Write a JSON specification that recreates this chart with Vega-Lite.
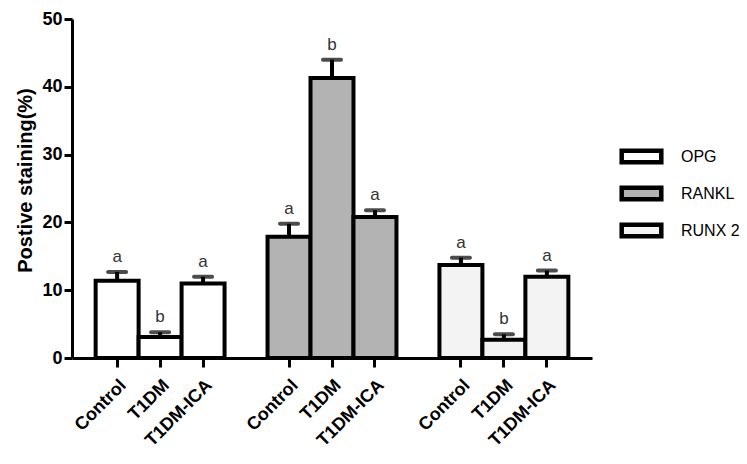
{
  "$schema": "https://vega.github.io/schema/vega-lite/v6.json",
  "width": 520,
  "height": 339,
  "autosize": {"type": "none"},
  "padding": {"left": 72, "top": 19, "right": 155, "bottom": 106},
  "background": "white",
  "config": {"view": {"stroke": null}, "font": "Liberation Sans"},
  "data": {
    "values": [
      {"key": "OPG|Control", "group": "OPG", "value": 11.4, "upper": 12.7, "letter": "a"},
      {"key": "OPG|T1DM", "group": "OPG", "value": 3.1, "upper": 3.8, "letter": "b"},
      {"key": "OPG|T1DM-ICA", "group": "OPG", "value": 11.0, "upper": 12.0, "letter": "a"},
      {"key": "RANKL|Control", "group": "RANKL", "value": 17.9, "upper": 19.8, "letter": "a"},
      {"key": "RANKL|T1DM", "group": "RANKL", "value": 41.3, "upper": 44.0, "letter": "b"},
      {"key": "RANKL|T1DM-ICA", "group": "RANKL", "value": 20.8, "upper": 21.8, "letter": "a"},
      {"key": "RUNX|Control", "group": "RUNX 2", "value": 13.7, "upper": 14.8, "letter": "a"},
      {"key": "RUNX|T1DM", "group": "RUNX 2", "value": 2.7, "upper": 3.5, "letter": "b"},
      {"key": "RUNX|T1DM-ICA", "group": "RUNX 2", "value": 12.0, "upper": 12.9, "letter": "a"}
    ]
  },
  "encoding": {
    "x": {
      "field": "key",
      "type": "nominal",
      "sort": null,
      "scale": {
        "domain": ["OPG|Control", "OPG|T1DM", "OPG|T1DM-ICA", "gap1", "RANKL|Control", "RANKL|T1DM", "RANKL|T1DM-ICA", "gap2", "RUNX|Control", "RUNX|T1DM", "RUNX|T1DM-ICA"],
        "paddingInner": 0,
        "paddingOuter": 0.55
      },
      "axis": {
        "title": null,
        "values": ["OPG|Control", "OPG|T1DM", "OPG|T1DM-ICA", "RANKL|Control", "RANKL|T1DM", "RANKL|T1DM-ICA", "RUNX|Control", "RUNX|T1DM", "RUNX|T1DM-ICA"],
        "labelExpr": "split(datum.value, '|')[1]",
        "labelAngle": -45,
        "labelFontSize": 18,
        "labelFontWeight": "bold",
        "labelColor": "black",
        "labelPadding": 9,
        "domainColor": "black",
        "domainWidth": 3,
        "tickColor": "black",
        "tickWidth": 3,
        "tickSize": 9,
        "grid": false
      }
    }
  },
  "layer": [
    {
      "mark": {"type": "bar", "stroke": "black", "strokeWidth": 4},
      "encoding": {
        "y": {
          "field": "value",
          "type": "quantitative",
          "scale": {"domain": [0, 50], "nice": false},
          "axis": {
            "title": "Postive staining(%)",
            "titleFontSize": 20,
            "titleFontWeight": "bold",
            "titleColor": "black",
            "titlePadding": 6,
            "titleY": 161,
            "values": [0, 10, 20, 30, 40, 50],
            "labelFontSize": 18,
            "labelFontWeight": "bold",
            "labelColor": "black",
            "labelPadding": 2,
            "domainColor": "black",
            "domainWidth": 3,
            "tickColor": "black",
            "tickWidth": 3,
            "tickSize": 8,
            "grid": false
          }
        },
        "color": {
          "field": "group",
          "type": "nominal",
          "scale": {"domain": ["OPG", "RANKL", "RUNX 2"], "range": ["#ffffff", "#b3b3b3", "#f3f3f3"]},
          "legend": {
            "title": null,
            "orient": "none",
            "legendX": 549,
            "legendY": 117,
            "symbolType": "M-1.1,-0.32H1.1V0.32H-1.1Z",
            "symbolSize": 1296,
            "symbolStrokeColor": "black",
            "symbolStrokeWidth": 4.5,
            "labelFontSize": 16,
            "labelColor": "black",
            "labelOffset": 19,
            "rowPadding": 1
          }
        }
      }
    },
    {
      "mark": {"type": "rule", "color": "black", "strokeWidth": 4},
      "encoding": {
        "y": {"field": "value", "type": "quantitative"},
        "y2": {"field": "upper"}
      }
    },
    {
      "mark": {"type": "tick", "color": "black", "size": 22, "thickness": 4, "cornerRadius": 2},
      "encoding": {
        "y": {"field": "upper", "type": "quantitative"}
      }
    },
    {
      "mark": {"type": "text", "fontSize": 17, "color": "#333333", "dy": -10, "baseline": "alphabetic"},
      "encoding": {
        "y": {"field": "upper", "type": "quantitative"},
        "text": {"field": "letter"}
      }
    }
  ]
}
